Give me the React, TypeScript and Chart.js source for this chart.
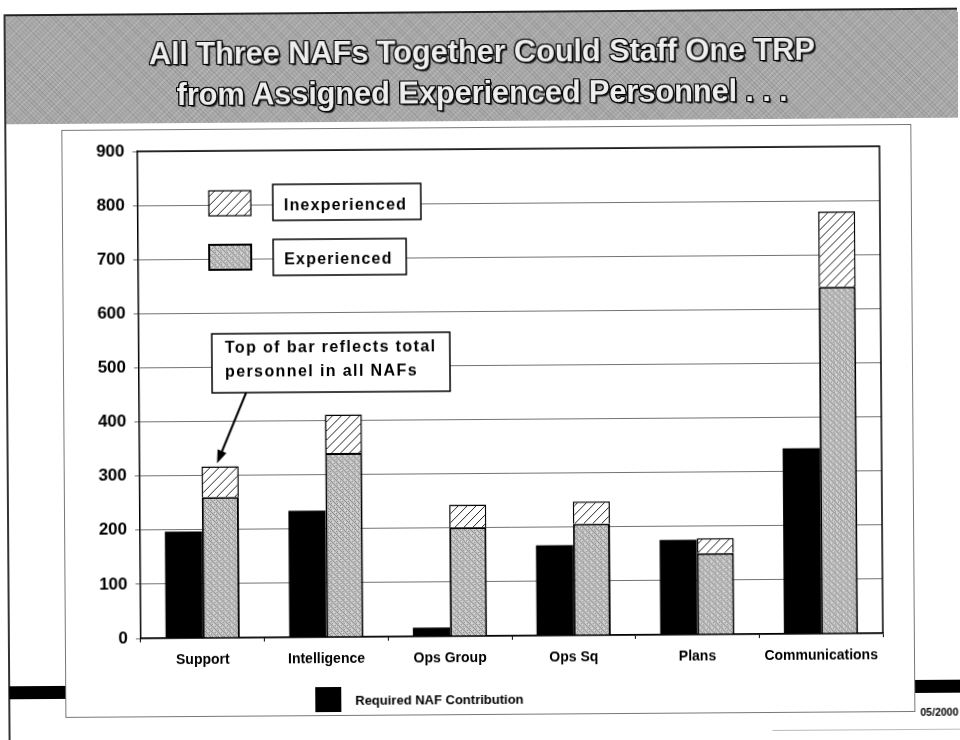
import React, { useEffect, useRef } from "react";
import { Chart, registerables } from "chart.js";

Chart.register(...registerables);

const categories = ["Support", "Intelligence", "Ops Group", "Ops Sq", "Plans", "Communications"];
const requiredNAF = [197, 234, 16, 167, 175, 343];
const experienced = [260, 340, 201, 206, 150, 641];
const inexperienced = [57, 71, 42, 41, 28, 139];
const yMax = 900;
const yStep = 100;
const seriesNames = ["Required NAF Contribution", "Experienced", "Inexperienced"];
const titleLines = ["All Three NAFs Together Could Staff One TRP", "from Assigned Experienced Personnel . . ."];
const annotationLines = ["Top of bar reflects total", "personnel in all NAFs"];
const dateText = "05/2000";

const FONT = "'Liberation Sans', Arial, Helvetica, sans-serif";

function makeHatch(): CanvasPattern | string {
  const c = document.createElement("canvas");
  c.width = 9;
  c.height = 9;
  const g = c.getContext("2d");
  if (!g) return "#fff";
  g.fillStyle = "#ffffff";
  g.fillRect(0, 0, 9, 9);
  g.strokeStyle = "#222";
  g.lineWidth = 1;
  g.beginPath();
  g.moveTo(0, 9);
  g.lineTo(9, 0);
  g.moveTo(-1, 1);
  g.lineTo(1, -1);
  g.moveTo(8, 10);
  g.lineTo(10, 8);
  g.stroke();
  return g.createPattern(c, "repeat") || "#fff";
}

function makeStipple(): CanvasPattern | string {
  const c = document.createElement("canvas");
  c.width = 6;
  c.height = 6;
  const g = c.getContext("2d");
  if (!g) return "#b0b0b0";
  g.fillStyle = "#c4c4c4";
  g.fillRect(0, 0, 6, 6);
  g.fillStyle = "#8a8a8a";
  const dark = [[0, 0], [1, 1], [2, 2], [3, 3], [4, 4], [5, 5], [3, 0], [0, 4], [5, 2]];
  dark.forEach(([x, y]) => g.fillRect(x, y, 1, 1));
  g.fillStyle = "#e2e2e2";
  const light = [[4, 1], [1, 4], [2, 5]];
  light.forEach(([x, y]) => g.fillRect(x, y, 1, 1));
  return g.createPattern(c, "repeat") || "#b0b0b0";
}

export default function App() {
  const ref = useRef<HTMLCanvasElement | null>(null);

  useEffect(() => {
    const canvas = ref.current;
    if (!canvas) return;
    const hatch = makeHatch();
    const stipple = makeStipple();

    const overlay = {
      id: "overlay",
      afterDatasetsDraw(chart: any) {
        const { ctx, chartArea: ca } = chart;
        ctx.save();
        // top/right frame of plot
        ctx.strokeStyle = "#000";
        ctx.lineWidth = 1.5;
        ctx.beginPath();
        ctx.moveTo(ca.left, ca.top);
        ctx.lineTo(ca.right, ca.top);
        ctx.lineTo(ca.right, ca.bottom);
        ctx.stroke();

        const L = ca.left;
        const T = ca.top;
        const box = (x: number, y: number, w: number, h: number, fill: any, lw: number) => {
          ctx.fillStyle = fill;
          ctx.fillRect(x, y, w, h);
          ctx.strokeStyle = "#000";
          ctx.lineWidth = lw;
          ctx.strokeRect(x, y, w, h);
        };

        // legend swatches and label boxes
        box(L + 71, T + 40, 42, 25, hatch, 1.2);
        box(L + 135, T + 34, 148, 36, "#fff", 1.5);
        box(L + 71, T + 94, 42, 25, stipple, 2);
        box(L + 135, T + 89, 133, 36, "#fff", 1.5);
        ctx.fillStyle = "#000";
        ctx.font = `bold 16px ${FONT}`;
        ctx.textAlign = "left";
        ctx.textBaseline = "alphabetic";
        (ctx as any).letterSpacing = "1.2px";
        ctx.fillText(seriesNames[2], L + 146, T + 60);
        ctx.fillText(seriesNames[1], L + 146, T + 114);

        // annotation box
        box(L + 73, T + 183, 238, 59, "#fff", 1.5);
        ctx.fillStyle = "#000";
        (ctx as any).letterSpacing = "1.4px";
        ctx.fillText(annotationLines[0], L + 86, T + 202);
        ctx.fillText(annotationLines[1], L + 86, T + 226);
        (ctx as any).letterSpacing = "0px";

        // arrow to top of Support total bar
        const meta = chart.getDatasetMeta(2);
        const el = meta.data[0];
        const tipX = el.x - 3;
        const tipY = el.y - 3;
        const sx = L + 107;
        const sy = T + 242;
        const ang = Math.atan2(tipY - sy, tipX - sx);
        ctx.strokeStyle = "#000";
        ctx.lineWidth = 2;
        ctx.beginPath();
        ctx.moveTo(sx, sy);
        ctx.lineTo(tipX - Math.cos(ang) * 10, tipY - Math.sin(ang) * 10);
        ctx.stroke();
        ctx.fillStyle = "#000";
        ctx.beginPath();
        ctx.moveTo(tipX, tipY);
        ctx.lineTo(tipX - Math.cos(ang - 0.35) * 14, tipY - Math.sin(ang - 0.35) * 14);
        ctx.lineTo(tipX - Math.cos(ang + 0.35) * 14, tipY - Math.sin(ang + 0.35) * 14);
        ctx.closePath();
        ctx.fill();

        // bottom legend for required series
        ctx.fillStyle = "#000";
        ctx.fillRect(L + 174, ca.bottom + 50, 26, 25);
        ctx.font = `bold 13px ${FONT}`;
        ctx.fillText(seriesNames[0], L + 214, ca.bottom + 68);
        ctx.restore();
      },
    };

    const chart = new Chart(canvas, {
      type: "bar",
      data: {
        labels: categories,
        datasets: [
          { label: seriesNames[0], data: requiredNAF, backgroundColor: "#000", borderWidth: 0, stack: "req" },
          { label: seriesNames[1], data: experienced, backgroundColor: stipple as any, borderColor: "#000", borderWidth: 2, stack: "tot" },
          { label: seriesNames[2], data: inexperienced, backgroundColor: hatch as any, borderColor: "#000", borderWidth: 1.5, stack: "tot" },
        ],
      },
      options: {
        animation: false,
        responsive: false,
        maintainAspectRatio: false,
        layout: { padding: { top: 149, right: 79, bottom: 0, left: 0 } },
        datasets: { bar: { categoryPercentage: 0.6, barPercentage: 1 } } as any,
        plugins: {
          legend: { display: false },
          title: { display: false },
          tooltip: { enabled: false },
        },
        scales: {
          x: {
            stacked: true,
            grid: { display: true, drawOnChartArea: false, drawTicks: true, tickLength: 4, color: "#000", offset: true },
            border: { display: true, color: "#000", width: 1.5 },
            ticks: {
              color: "#000",
              font: { family: FONT, size: 14, weight: "bold" },
              padding: 10,
              maxRotation: 0,
              autoSkip: false,
            },
            afterFit: (s: any) => {
              s.height = 740 - 636;
            },
          },
          y: {
            stacked: true,
            min: 0,
            max: yMax,
            grid: { color: "rgba(0,0,0,0.55)", lineWidth: 1, drawTicks: true, tickLength: 5 },
            border: { display: true, color: "#000", width: 1.5 },
            ticks: {
              stepSize: yStep,
              color: "#000",
              padding: 8,
              font: { family: FONT, size: 17, weight: "bold" },
            },
            afterFit: (s: any) => {
              s.width = 139;
            },
          },
        },
      },
      plugins: [overlay],
    });
    return () => chart.destroy();
  }, []);

  const titleStyle: React.CSSProperties = {
    position: "absolute",
    left: 0,
    width: 968,
    textAlign: "center",
    fontFamily: FONT,
    fontWeight: "bold",
    fontSize: 31,
    lineHeight: "31px",
    letterSpacing: "-0.2px",
    color: "#eeeeee",
    whiteSpace: "nowrap",
    textShadow:
      "1px 0 0 #000, -1px 0 0 #000, 0 1px 0 #000, 0 -1px 0 #000, 1px 1px 0 #000, -1px -1px 0 #000, 1px -1px 0 #000, -1px 1px 0 #000, 2px 2px 1px #222",
  };

  return (
    <div
      style={{
        position: "fixed",
        left: 0,
        top: 0,
        width: 960,
        height: 740,
        background: "#fff",
        overflow: "hidden",
        transform: "rotate(-0.4deg)",
        transformOrigin: "480px 370px",
      }}
    >
      <div
        style={{
          position: "absolute",
          left: 7,
          top: 11,
          width: 960,
          height: 108,
          borderTop: "2px solid #222",
          background:
            "repeating-linear-gradient(45deg, rgba(0,0,0,0.10) 0 1px, transparent 1px 3px), repeating-linear-gradient(-45deg, rgba(255,255,255,0.18) 0 1px, transparent 1px 4px), #a9a9a9",
        }}
      />
      <div style={{ position: "absolute", left: 6, top: 11, width: 2, height: 740, background: "#333" }} />
      <div style={{ position: "absolute", left: 7, top: 683, width: 960, height: 13, background: "#000" }} />
      <div style={{ ...titleStyle, top: 36 }}>{titleLines[0]}</div>
      <div style={{ ...titleStyle, top: 77 }}>{titleLines[1]}</div>
      <div
        style={{
          position: "absolute",
          left: 63,
          top: 127,
          width: 848,
          height: 586,
          background: "#fff",
          border: "1px solid #777",
        }}
      />
      <div style={{ position: "absolute", left: 770, top: 732, width: 190, height: 1, background: "#bbb" }} />
      <div
        style={{
          position: "absolute",
          right: 4,
          top: 709,
          fontFamily: FONT,
          fontWeight: "bold",
          fontSize: 10.5,
          color: "#000",
        }}
      >
        {dateText}
      </div>
      <canvas ref={ref} width={960} height={740} style={{ position: "absolute", left: 0, top: 0, width: 960, height: 740 }} />
    </div>
  );
}
